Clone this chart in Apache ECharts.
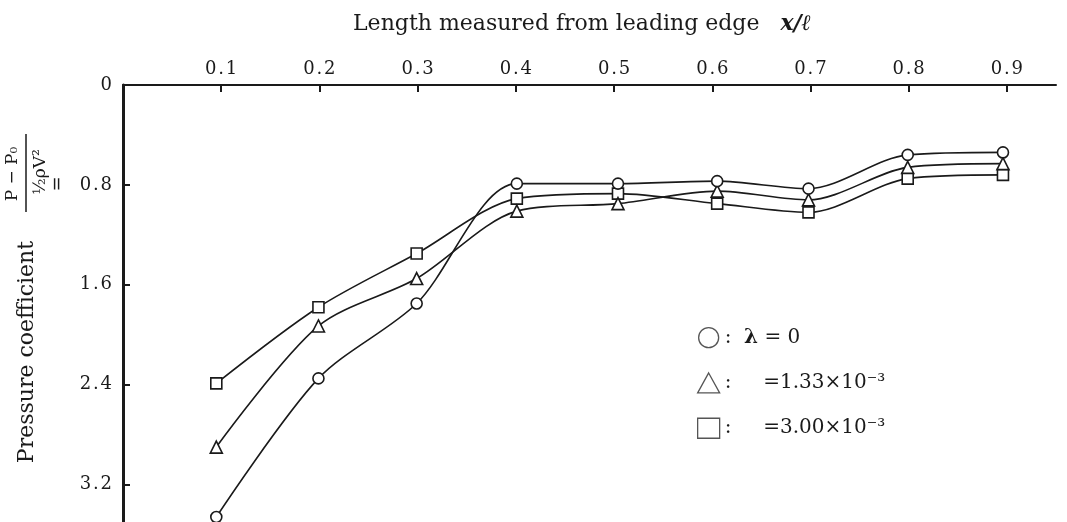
<!DOCTYPE html>
<html>
<head>
<meta charset="utf-8">
<script src="https://cdn.jsdelivr.net/npm/echarts@6/dist/echarts.min.js"></script>
<style>
  html, body { margin: 0; padding: 0; background: #fff; }
  #chart { width: 1067px; height: 522px; }
</style>
</head>
<body>
<div id="chart"></div>
<script>
// stations along the chord, x/l
var xStations = [0.095, 0.199, 0.299, 0.401, 0.504, 0.605, 0.698, 0.799, 0.896]
// pressure coefficient for each roughness lambda
var cpLambda0 = [3.46, 2.35, 1.75, 0.79, 0.79, 0.77, 0.83, 0.56, 0.54]
var cpLambda133 = [2.90, 1.93, 1.55, 1.01, 0.95, 0.85, 0.92, 0.66, 0.63]
var cpLambda300 = [2.39, 1.78, 1.35, 0.91, 0.87, 0.95, 1.02, 0.75, 0.72]
var seriesNames = ['λ = 0', '=1.33×10⁻³', '=3.00×10⁻³']
var seriesSymbols = ['circle', 'triangle', 'rect']

var ink = '#1a1a1a'
var serif = 'DejaVu Serif'

function pairs (ys) {
  return ys.map(function (y, i) { return [xStations[i], y] })
}

var chart = echarts.init(document.getElementById('chart'))

function makeSeries (i, ys) {
  return {
    name: seriesNames[i],
    type: 'line',
    data: pairs(ys),
    smooth: 0.3,
    symbol: seriesSymbols[i],
    symbolSize: seriesSymbols[i] == 'triangle' ? 12 : 11,
    lineStyle: { color: ink, width: 1.6 },
    itemStyle: { color: '#fff', borderColor: ink, borderWidth: 1.6 },
    z: 3 - i
  }
}

// rotated y axis name with the fraction
function vText (x, y, text, size) {
  return {
    type: 'text',
    x: x, y: y,
    rotation: Math.PI / 2,
    style: {
      text: text,
      font: size + 'px "' + serif + '"',
      fill: ink,
      align: 'center',
      verticalAlign: 'middle'
    }
  }
}

chart.setOption({
  animation: false,
  backgroundColor: '#fff',
  title: {
    text: 'Length measured from leading edge   {i|x/ℓ}',
    left: 348,
    top: 8,
    textStyle: {
      fontFamily: serif,
      fontSize: 22,
      fontWeight: 'normal',
      color: ink,
      rich: {
        i: { fontFamily: serif, fontSize: 22, fontStyle: 'italic', fontWeight: 'bold', color: ink }
      }
    }
  },
  grid: { left: 123, top: 85, width: 933, bottom: 0 },
  xAxis: {
    type: 'value',
    position: 'top',
    min: 0,
    max: 0.95,
    interval: 0.1,
    splitLine: { show: false },
    axisLine: { lineStyle: { color: ink, width: 2 } },
    axisTick: { inside: true, length: 7, lineStyle: { color: ink, width: 2 } },
    axisLabel: {
      showMinLabel: false,
      showMaxLabel: false,
      margin: 7,
      fontFamily: serif,
      fontSize: 18,
      color: ink,
      formatter: function (v) { return v.toFixed(1).split('').join('\u200a') }
    }
  },
  yAxis: {
    type: 'value',
    inverse: true,
    min: 0,
    max: 3.5,
    interval: 0.8,
    splitLine: { show: false },
    axisLine: { lineStyle: { color: ink, width: 3 } },
    axisTick: { inside: true, length: 7, lineStyle: { color: ink, width: 2 } },
    axisLabel: {
      showMaxLabel: false,
      margin: 11,
      fontFamily: serif,
      fontSize: 18,
      color: ink,
      formatter: function (v) { return v == 0 ? '0' : v.toFixed(1).split('').join('\u200a') }
    }
  },
  legend: {
    orient: 'vertical',
    left: 692,
    top: 322,
    itemGap: 24,
    itemWidth: 22,
    itemHeight: 20,
    data: seriesNames.map(function (n, i) {
      return { name: n, icon: seriesSymbols[i] }
    }),
    itemStyle: { color: '#fff', borderColor: '#555', borderWidth: 1.3 },
    formatter: function (name) {
      if (name == seriesNames[0]) return ':  {b|λ} = 0'
      return ':     ' + name
    },
    textStyle: {
      fontFamily: serif,
      fontSize: 20,
      color: ink,
      rich: { b: { fontFamily: serif, fontSize: 20, fontWeight: 'bold', color: ink } }
    }
  },
  graphic: [
    vText(27, 352, 'Pressure coefficient', 22),
    vText(13, 174, 'P − P₀', 17),
    { type: 'line', shape: { x1: 26, y1: 134, x2: 26, y2: 212 }, style: { stroke: ink, lineWidth: 1.5 } },
    vText(41, 172, '½ρV²', 17),
    vText(58, 184, '=', 18)
  ],
  series: [
    makeSeries(0, cpLambda0),
    makeSeries(1, cpLambda133),
    makeSeries(2, cpLambda300)
  ]
})
</script>
</body>
</html>
